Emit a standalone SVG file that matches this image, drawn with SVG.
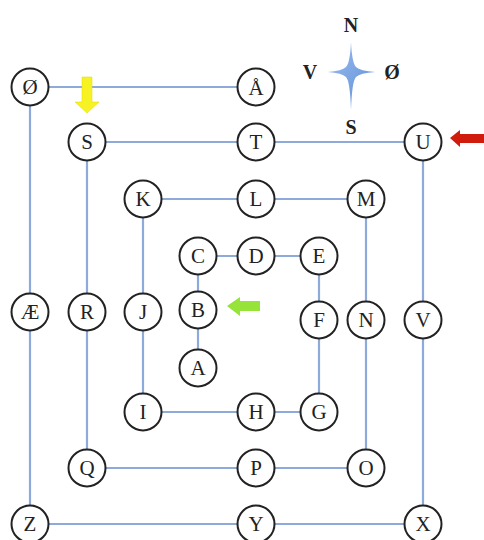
<svg xmlns="http://www.w3.org/2000/svg" width="484" height="540" viewBox="0 0 484 540">
<style>
.n circle{fill:#fff;stroke:#222;stroke-width:2}
.n text{font-family:"Liberation Serif","DejaVu Serif",serif;font-size:21px;fill:#222;text-anchor:middle;dominant-baseline:central}
.e line{stroke:#8eaadb;stroke-width:2.2}
.c{font-family:"Liberation Serif","DejaVu Serif",serif;font-size:20px;font-weight:bold;fill:#222;text-anchor:middle;dominant-baseline:central}
</style>
<defs>
<linearGradient id="star" x1="0" y1="0" x2="1" y2="1"><stop offset="0" stop-color="#9cbdf0"/><stop offset="1" stop-color="#5b8ed6"/></linearGradient>
</defs>
<rect width="484" height="540" fill="#fff"/>
<g id="connectors" class="e">
<line x1="30" y1="87" x2="256" y2="87"/>
<line x1="30" y1="87" x2="30" y2="524"/>
<line x1="30" y1="524" x2="423" y2="524"/>
<line x1="423" y1="524" x2="423" y2="142"/>
<line x1="423" y1="142" x2="87" y2="142"/>
<line x1="87" y1="142" x2="87" y2="468"/>
<line x1="87" y1="468" x2="366" y2="468"/>
<line x1="366" y1="468" x2="366" y2="199"/>
<line x1="366" y1="199" x2="143" y2="199"/>
<line x1="143" y1="199" x2="143" y2="412"/>
<line x1="143" y1="412" x2="319" y2="412"/>
<line x1="319" y1="412" x2="319" y2="256"/>
<line x1="319" y1="256" x2="198" y2="256"/>
<line x1="198" y1="256" x2="198" y2="368"/>
</g>
<g id="nodes">
<g id="nO" class="n"><circle cx="30" cy="87" r="18.5"/><text x="30" y="87">Ø</text></g>
<g id="nAA" class="n"><circle cx="256" cy="87" r="18.5"/><text x="256" y="88">Å</text></g>
<g id="nS" class="n"><circle cx="87" cy="142" r="18.5"/><text x="87" y="142">S</text></g>
<g id="nT" class="n"><circle cx="256" cy="142" r="18.5"/><text x="256" y="142">T</text></g>
<g id="nU" class="n"><circle cx="423" cy="142" r="18.5"/><text x="423" y="142">U</text></g>
<g id="nK" class="n"><circle cx="143" cy="199" r="18.5"/><text x="143" y="199">K</text></g>
<g id="nL" class="n"><circle cx="256" cy="199" r="18.5"/><text x="256" y="199">L</text></g>
<g id="nM" class="n"><circle cx="366" cy="199" r="18.5"/><text x="366" y="199">M</text></g>
<g id="nC" class="n"><circle cx="198" cy="256" r="18.5"/><text x="198" y="256">C</text></g>
<g id="nD" class="n"><circle cx="256" cy="256" r="18.5"/><text x="256" y="256">D</text></g>
<g id="nE" class="n"><circle cx="319" cy="256" r="18.5"/><text x="319" y="256">E</text></g>
<g id="nAE" class="n"><circle cx="30" cy="312" r="18.5"/><text x="30" y="312">Æ</text></g>
<g id="nR" class="n"><circle cx="87" cy="312" r="18.5"/><text x="87" y="312">R</text></g>
<g id="nJ" class="n"><circle cx="143" cy="312" r="18.5"/><text x="143" y="312">J</text></g>
<g id="nB" class="n"><circle cx="198" cy="310" r="18.5"/><text x="198" y="310">B</text></g>
<g id="nF" class="n"><circle cx="319" cy="320" r="18.5"/><text x="319" y="320">F</text></g>
<g id="nN" class="n"><circle cx="366" cy="320" r="18.5"/><text x="366" y="320">N</text></g>
<g id="nV" class="n"><circle cx="423" cy="320" r="18.5"/><text x="423" y="320">V</text></g>
<g id="nA" class="n"><circle cx="198" cy="368" r="18.5"/><text x="198" y="368">A</text></g>
<g id="nI" class="n"><circle cx="143" cy="412" r="18.5"/><text x="143" y="412">I</text></g>
<g id="nH" class="n"><circle cx="256" cy="412" r="18.5"/><text x="256" y="412">H</text></g>
<g id="nG" class="n"><circle cx="319" cy="412" r="18.5"/><text x="319" y="412">G</text></g>
<g id="nQ" class="n"><circle cx="87" cy="468" r="18.5"/><text x="87" y="468">Q</text></g>
<g id="nP" class="n"><circle cx="256" cy="468" r="18.5"/><text x="256" y="468">P</text></g>
<g id="nOO" class="n"><circle cx="366" cy="468" r="18.5"/><text x="366" y="468">O</text></g>
<g id="nZ" class="n"><circle cx="30" cy="524" r="18.5"/><text x="30" y="524">Z</text></g>
<g id="nY" class="n"><circle cx="256" cy="524" r="18.5"/><text x="256" y="524">Y</text></g>
<g id="nX" class="n"><circle cx="423" cy="524" r="18.5"/><text x="423" y="524">X</text></g>
</g>
<g id="compass">
<path d="M351,42 Q352,63 356,67 Q360,71 375,72 Q360,73 356,77 Q352,81 351,110 Q350,81 346,77 Q342,73 328,72 Q342,71 346,67 Q350,63 351,42 Z" fill="url(#star)"/>
<text class="c" x="351" y="25">N</text>
<text class="c" x="310" y="72">V</text>
<text class="c" x="392" y="72">Ø</text>
<text class="c" x="351" y="127">S</text>
</g>
<g id="arrows">
<path d="M82,77 L92,77 L92,102 L99,102 L87,113 L75,102 L82,102 Z" fill="#f7f224" stroke="#e0d800" stroke-width="0.5"/>
<path d="M450,138 L460,130 L460,134 L484,134 L484,143 L460,143 L460,147 Z" fill="#d01c0c"/>
<path d="M227,306 L240,297 L240,301 L260,301 L260,311 L240,311 L240,316 Z" fill="#96e33a"/>
</g>
</svg>
